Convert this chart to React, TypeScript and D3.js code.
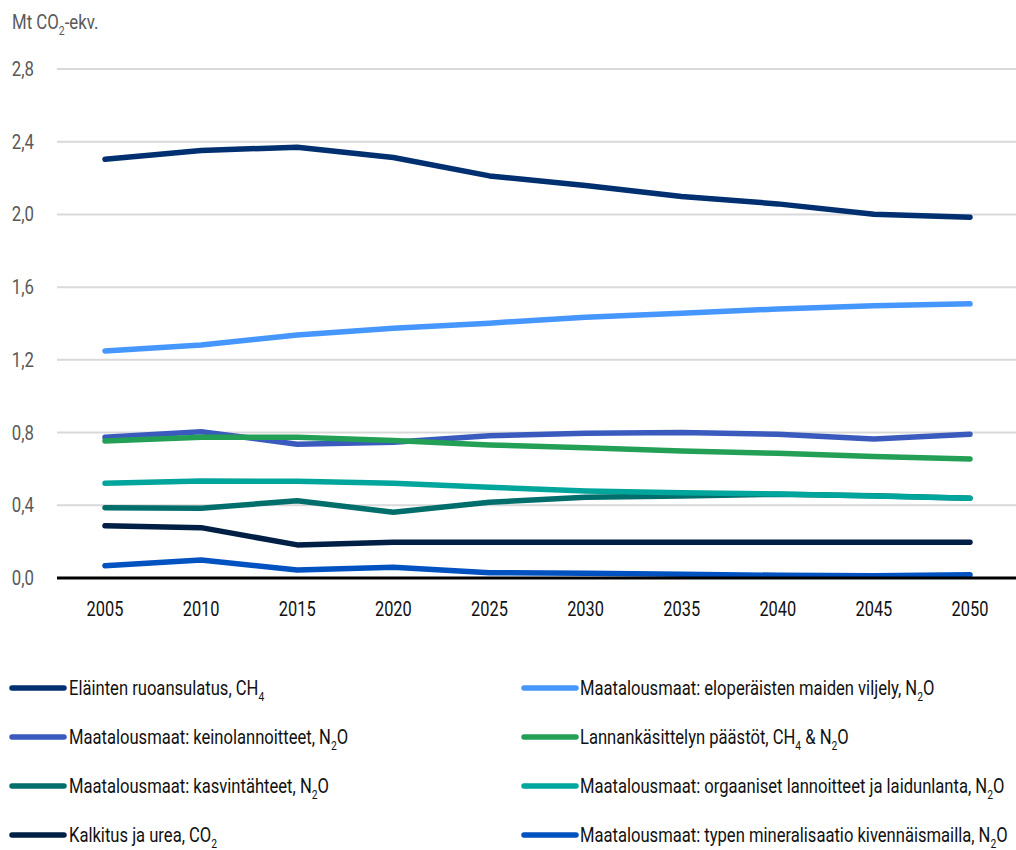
import React from 'react';
import * as d3 from 'd3';

// Agricultural greenhouse gas emissions, Mt CO2-eq., 2005–2050
const years = [2005, 2010, 2015, 2020, 2025, 2030, 2035, 2040, 2045, 2050];

const elaintenRuoansulatus = [2.304, 2.352, 2.37, 2.313, 2.212, 2.159, 2.099, 2.058, 2.001, 1.985];
const eloperaisetMaat = [1.249, 1.282, 1.337, 1.374, 1.402, 1.435, 1.457, 1.48, 1.497, 1.508];
const keinolannoitteet = [0.774, 0.805, 0.736, 0.747, 0.783, 0.796, 0.8, 0.791, 0.765, 0.791];
const lannankasittely = [0.754, 0.774, 0.774, 0.756, 0.732, 0.717, 0.699, 0.686, 0.668, 0.655];
const kasvintahteet = [0.387, 0.384, 0.425, 0.362, 0.417, 0.444, 0.451, 0.461, 0.453, 0.439];
const orgaanisetLannoitteet = [0.521, 0.534, 0.532, 0.521, 0.499, 0.479, 0.469, 0.462, 0.451, 0.439];
const kalkitusJaUrea = [0.288, 0.277, 0.182, 0.196, 0.197, 0.197, 0.197, 0.197, 0.197, 0.197];
const typenMineralisaatio = [0.068, 0.099, 0.044, 0.059, 0.029, 0.026, 0.02, 0.015, 0.013, 0.018];

const yTicks = [0, 0.4, 0.8, 1.2, 1.6, 2.0, 2.4, 2.8];

// "_x" marks a subscript character
const seriesNames = [
  'Eläinten ruoansulatus, CH_4',
  'Maatalousmaat: eloperäisten maiden viljely, N_2O',
  'Maatalousmaat: keinolannoitteet, N_2O',
  'Lannankäsittelyn päästöt, CH_4 & N_2O',
  'Maatalousmaat: kasvintähteet, N_2O',
  'Maatalousmaat: orgaaniset lannoitteet ja laidunlanta, N_2O',
  'Kalkitus ja urea, CO_2',
  'Maatalousmaat: typen mineralisaatio kivennäismailla, N_2O',
];
const seriesValues = [
  elaintenRuoansulatus,
  eloperaisetMaat,
  keinolannoitteet,
  lannankasittely,
  kasvintahteet,
  orgaanisetLannoitteet,
  kalkitusJaUrea,
  typenMineralisaatio,
];
const seriesColors = [
  '#00306f',
  '#4596fd',
  '#3a5bbd',
  '#23a055',
  '#006f6c',
  '#00a59b',
  '#001f45',
  '#0052c0',
];

const FONT = "Roboto, 'Noto Sans', sans-serif";

const W = 1016;
const H = 850;

// Text with "_x" subscripts, horizontally narrowed by `sx` around its anchor.
function RichText({
  text, x, y, size, fill, anchor = 'start', sx = 1,
}: { text: string; x: number; y: number; size: number; fill: string; anchor?: string; sx?: number }) {
  const parts: { t: string; sub: boolean }[] = [];
  let buf = '';
  for (let i = 0; i < text.length; i++) {
    if (text[i] === '_' && i + 1 < text.length) {
      if (buf) parts.push({ t: buf, sub: false });
      buf = '';
      parts.push({ t: text[i + 1], sub: true });
      i++;
    } else {
      buf += text[i];
    }
  }
  if (buf) parts.push({ t: buf, sub: false });
  let shifted = false;
  return (
    <g transform={`translate(${x},${y}) scale(${sx},1)`}>
      <text x={0} y={0} fontSize={size} fill={fill} fontFamily={FONT} textAnchor={anchor as any}>
        {parts.map((p, i) => {
          let dy = 0;
          if (p.sub && !shifted) { dy = size * 0.3; shifted = true; }
          else if (!p.sub && shifted) { dy = -size * 0.3; shifted = false; }
          return (
            <tspan key={i} dy={dy || undefined} fontSize={p.sub ? size * 0.62 : size}>
              {p.t}
            </tspan>
          );
        })}
      </text>
    </g>
  );
}

export default function App() {
  const x = d3.scaleLinear().domain([2005, 2050]).range([105, 970]);
  const y = d3.scaleLinear().domain([0, 2.8]).range([578, 69]);
  const fmt = (v: number) => d3.format('.1f')(v).replace('.', ',');

  const line = d3
    .line<number>()
    .x((_, i) => x(years[i]))
    .y((d) => y(d));

  const gridLeft = 57;
  const legendRows = [688, 737, 786, 835];
  const legendCols = [
    { lineX0: 12, lineX1: 64, textX: 69 },
    { lineX0: 524, lineX1: 576, textX: 580 },
  ];

  return (
    <svg
      width={W}
      height={H}
      style={{ position: 'absolute', left: 0, top: 0, display: 'block', background: '#fff' }}
    >
      <rect width={W} height={H} fill="#fff" />

      {/* unit label */}
      <RichText text="Mt CO_2-ekv." x={12} y={29} size={20} fill="#595959" sx={0.84} />

      {/* gridlines and y tick labels */}
      {yTicks.map((t) => (
        <g key={t}>
          {t !== 0 && (
            <line x1={gridLeft} x2={W} y1={y(t)} y2={y(t)} stroke="#d9d9d9" strokeWidth={2} />
          )}
          <RichText text={fmt(t)} x={34} y={y(t) + 7} size={20} fill="#595959" anchor="end" sx={0.84} />
        </g>
      ))}

      {/* series lines */}
      {seriesValues.map((vals, i) => (
        <path
          key={i}
          d={line(vals) || ''}
          fill="none"
          stroke={seriesColors[i]}
          strokeWidth={5.5}
          strokeLinecap="round"
          strokeLinejoin="round"
        />
      ))}

      {/* zero axis */}
      <line x1={gridLeft} x2={W} y1={y(0)} y2={y(0)} stroke="#000" strokeWidth={3} />

      {/* x tick labels */}
      {years.map((yr) => (
        <RichText key={yr} text={String(yr)} x={x(yr)} y={616} size={21} fill="#111" anchor="middle" sx={0.78} />
      ))}

      {/* legend */}
      {seriesNames.map((name, i) => {
        const col = legendCols[i % 2];
        const ry = legendRows[Math.floor(i / 2)];
        return (
          <g key={name}>
            <line
              x1={col.lineX0}
              x2={col.lineX1}
              y1={ry}
              y2={ry}
              stroke={seriesColors[i]}
              strokeWidth={5.5}
              strokeLinecap="round"
            />
            <RichText text={name} x={col.textX} y={ry + 7} size={20} fill="#111" sx={0.83} />
          </g>
        );
      })}
    </svg>
  );
}
